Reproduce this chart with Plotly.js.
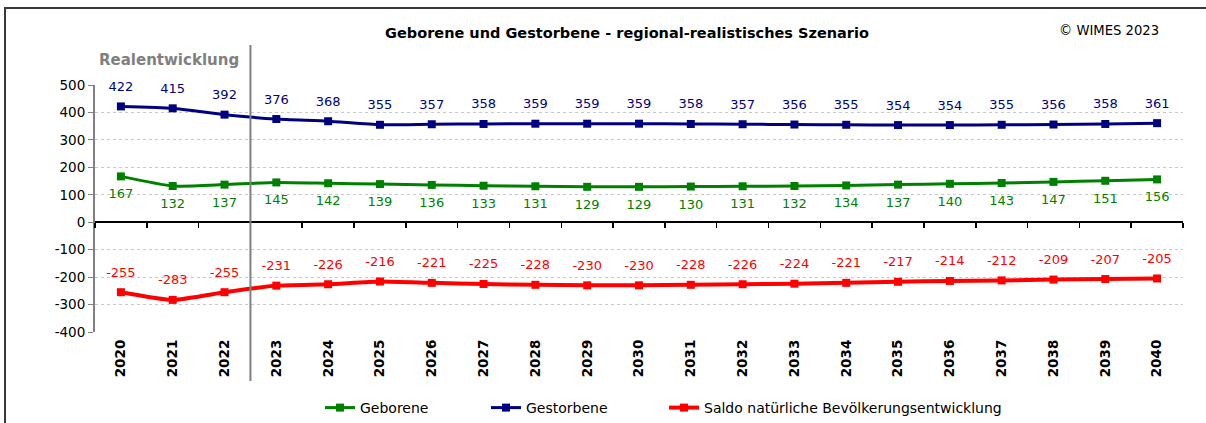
<!DOCTYPE html>
<html>
<head>
<meta charset="utf-8">
<script src="https://cdn.plot.ly/plotly-3.0.1.min.js"></script>
<style>
  html, body { margin: 0; padding: 0; background: #fff; overflow: hidden; }
  #chart { width: 1206px; height: 423px; }
  #frame { position: absolute; left: 4px; top: 7px; width: 1400px; height: 600px;
           border-left: 2px solid #3a3a3a; border-top: 2px solid #3a3a3a; pointer-events: none; }
</style>
</head>
<body>
<div id="chart"></div>
<div id="frame"></div>
<script>
const years = ['2020','2021','2022','2023','2024','2025','2026','2027','2028','2029','2030',
               '2031','2032','2033','2034','2035','2036','2037','2038','2039','2040'];
const geborene   = [167,132,137,145,142,139,136,133,131,129,129,130,131,132,134,137,140,143,147,151,156];
const gestorbene = [422,415,392,376,368,355,357,358,359,359,359,358,357,356,355,354,354,355,356,358,361];
const saldo      = [-255,-283,-255,-231,-226,-216,-221,-225,-228,-230,-230,-228,-226,-224,-221,-217,-214,-212,-209,-207,-205];
const yTicks = [-400,-300,-200,-100,0,100,200,300,400,500];

const titleText = 'Geborene und Gestorbene - regional-realistisches Szenario';
const copyrightText = '© WIMES 2023';
const realText = 'Realentwicklung';
const FONT = 'DejaVu Sans, Verdana, sans-serif';

function series(name, y, color, width, legendId) {
  return {
    type: 'scatter', mode: 'lines+markers', name: name, legend: legendId,
    x: years, y: y,
    line: {color: color, width: width, shape: 'spline', smoothing: 0.5},
    marker: {symbol: 'square', size: 8, color: color},
    hoverinfo: 'x+y'
  };
}
function labels(y, color, pos) {
  return {
    type: 'scatter', mode: 'markers+text', x: years, y: y, showlegend: false,
    marker: {size: 18, opacity: 0, color: color},
    text: y.map(String), textposition: pos, cliponaxis: false, hoverinfo: 'skip',
    textfont: {family: FONT, size: 13, color: color}
  };
}

const traces = [
  series('Geborene', geborene, '#008000', 3, 'legend'),
  series('Gestorbene', gestorbene, '#000080', 3, 'legend2'),
  series('Saldo natürliche Bevölkerungsentwicklung', saldo, '#ff0000', 4, 'legend3'),
  labels(geborene, '#008000', 'bottom center'),
  labels(gestorbene, '#000080', 'top center'),
  labels(saldo, '#ff0000', 'top center'),
  {type: 'scatter', mode: 'markers', x: years, y: years.map(() => null), xaxis: 'x2', yaxis: 'y',
   showlegend: false, hoverinfo: 'skip', marker: {opacity: 0}}
];

function legendAt(px) {
  return {orientation: 'h', xref: 'container', yref: 'container', x: px/1206, xanchor: 'left',
          y: 1 - 408/423, yanchor: 'middle', font: {family: FONT, size: 14, color: '#000'},
          itemwidth: 30, bgcolor: 'rgba(0,0,0,0)'};
}

const layout = {
  width: 1206, height: 423,
  margin: {l: 95, r: 23, t: 85, b: 91},
  paper_bgcolor: '#ffffff', plot_bgcolor: '#ffffff',
  font: {family: FONT, size: 12, color: '#000'},
  showlegend: true,
  title: {text: '<b>' + titleText + '</b>', font: {family: FONT, size: 14.5, color: '#000'},
          xref: 'container', yref: 'container', x: 627/1206, xanchor: 'center', y: 1 - 33/423, yanchor: 'middle'},
  xaxis: {
    type: 'category', range: [-0.5, 20.5], tickangle: -90,
    tickfont: {family: FONT, size: 13.5, color: '#000', weight: 'bold'},
    showgrid: false, showline: false, zeroline: false, ticks: '', ticklabelstandoff: 4
  },
  xaxis2: {
    type: 'category', range: [-0.5, 20.5], overlaying: 'x', anchor: 'free', position: 400/900,
    showticklabels: false, showgrid: false, showline: true, linecolor: '#000', linewidth: 2,
    ticks: 'outside', tickson: 'boundaries', ticklen: 5, tickcolor: '#000', tickwidth: 1.5, zeroline: false
  },
  yaxis: {
    range: [-400, 500], tickvals: yTicks, ticktext: yTicks.map(String),
    ticks: 'outside', ticklen: 5, tickcolor: '#808080',
    showline: true, linecolor: '#808080', linewidth: 2,
    showgrid: true, gridcolor: '#c8c8c8', griddash: 'dot', gridwidth: 1,
    zeroline: false, tickfont: {family: FONT, size: 13.5, color: '#000'}
  },
  legend: legendAt(320),
  legend2: legendAt(486),
  legend3: legendAt(664),
  shapes: [
    {type: 'line', xref: 'x', yref: 'paper', x0: 2.5, x1: 2.5, y0: (332-381)/247, y1: (332-45)/247,
     line: {color: '#808080', width: 2}}
  ],
  annotations: [
    {text: copyrightText, xref: 'paper', yref: 'paper', x: (1109-95)/1088, y: (332-31)/247,
     xanchor: 'center', yanchor: 'middle', showarrow: false, font: {family: FONT, size: 13.2, color: '#000'}},
    {text: '<b>' + realText + '</b>', xref: 'paper', yref: 'paper', x: (169-95)/1088, y: (332-60)/247,
     xanchor: 'center', yanchor: 'middle', showarrow: false, font: {family: FONT, size: 15, color: '#808080'}}
  ]
};

Plotly.newPlot('chart', traces, layout, {displayModeBar: false, staticPlot: true});
</script>
</body>
</html>
